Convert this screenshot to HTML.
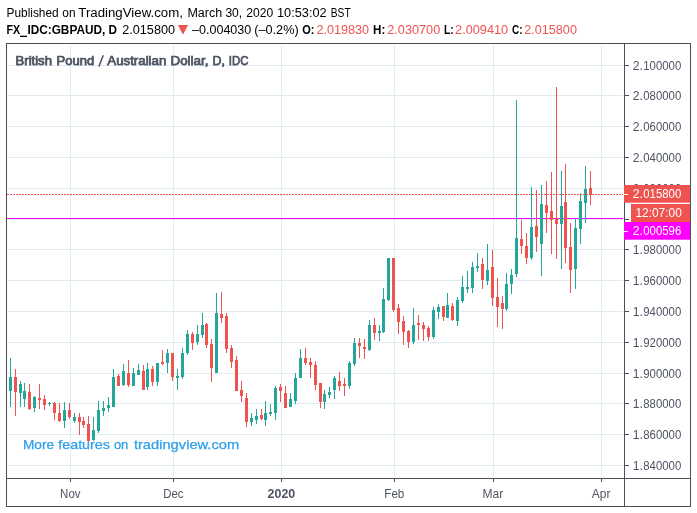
<!DOCTYPE html>
<html><head><meta charset="utf-8"><title>GBPAUD</title>
<style>
html,body{margin:0;padding:0;background:#fff;}
body{width:697px;height:513px;overflow:hidden;font-family:"Liberation Sans",sans-serif;}
svg{display:block;position:absolute;left:0;top:0;will-change:transform;}
text{font-family:"Liberation Sans",sans-serif;}
</style></head><body>
<svg width="697" height="513" viewBox="0 0 697 513">
<rect x="0" y="0" width="697" height="513" fill="#ffffff"/>
<g shape-rendering="crispEdges">
<rect x="8" y="65" width="615" height="1" fill="#e1ecf2"/>
<rect x="8" y="95" width="615" height="1" fill="#e1ecf2"/>
<rect x="8" y="126" width="615" height="1" fill="#e1ecf2"/>
<rect x="8" y="157" width="615" height="1" fill="#e1ecf2"/>
<rect x="8" y="188" width="615" height="1" fill="#e1ecf2"/>
<rect x="8" y="219" width="615" height="1" fill="#e1ecf2"/>
<rect x="8" y="249" width="615" height="1" fill="#e1ecf2"/>
<rect x="8" y="280" width="615" height="1" fill="#e1ecf2"/>
<rect x="8" y="311" width="615" height="1" fill="#e1ecf2"/>
<rect x="8" y="342" width="615" height="1" fill="#e1ecf2"/>
<rect x="8" y="373" width="615" height="1" fill="#e1ecf2"/>
<rect x="8" y="403" width="615" height="1" fill="#e1ecf2"/>
<rect x="8" y="434" width="615" height="1" fill="#e1ecf2"/>
<rect x="8" y="465" width="615" height="1" fill="#e1ecf2"/>
<rect x="70" y="45" width="1" height="432" fill="#e1ecf2"/>
<rect x="173" y="45" width="1" height="432" fill="#e1ecf2"/>
<rect x="281" y="45" width="1" height="432" fill="#e1ecf2"/>
<rect x="394" y="45" width="1" height="432" fill="#e1ecf2"/>
<rect x="493" y="45" width="1" height="432" fill="#e1ecf2"/>
<rect x="601" y="45" width="1" height="432" fill="#e1ecf2"/>
<rect x="7" y="218" width="616" height="1" fill="#ff00ff"/>
<rect x="10" y="358" width="1" height="49" fill="#26a69a"/>
<rect x="9" y="377" width="3" height="14" fill="#26a69a"/>
<rect x="15" y="369" width="1" height="47" fill="#ef5350"/>
<rect x="14" y="377" width="3" height="15" fill="#ef5350"/>
<rect x="20" y="381" width="1" height="26" fill="#26a69a"/>
<rect x="19" y="384" width="3" height="9" fill="#26a69a"/>
<rect x="24" y="383" width="1" height="24" fill="#26a69a"/>
<rect x="23" y="391" width="3" height="8" fill="#26a69a"/>
<rect x="29" y="384" width="1" height="26" fill="#ef5350"/>
<rect x="28" y="392" width="3" height="17" fill="#ef5350"/>
<rect x="34" y="396" width="1" height="16" fill="#26a69a"/>
<rect x="33" y="397" width="3" height="11" fill="#26a69a"/>
<rect x="39" y="384" width="1" height="25" fill="#ef5350"/>
<rect x="38" y="398" width="3" height="2" fill="#ef5350"/>
<rect x="44" y="395" width="1" height="15" fill="#ef5350"/>
<rect x="43" y="399" width="3" height="6" fill="#ef5350"/>
<rect x="49" y="402" width="1" height="4" fill="#26a69a"/>
<rect x="48" y="403" width="3" height="1" fill="#26a69a"/>
<rect x="54" y="402" width="1" height="18" fill="#ef5350"/>
<rect x="53" y="403" width="3" height="10" fill="#ef5350"/>
<rect x="59" y="403" width="1" height="19" fill="#ef5350"/>
<rect x="58" y="413" width="3" height="8" fill="#ef5350"/>
<rect x="64" y="402" width="1" height="26" fill="#26a69a"/>
<rect x="63" y="410" width="3" height="11" fill="#26a69a"/>
<rect x="69" y="403" width="1" height="16" fill="#ef5350"/>
<rect x="68" y="410" width="3" height="7" fill="#ef5350"/>
<rect x="74" y="413" width="1" height="10" fill="#26a69a"/>
<rect x="73" y="417" width="3" height="4" fill="#26a69a"/>
<rect x="79" y="413" width="1" height="22" fill="#ef5350"/>
<rect x="78" y="417" width="3" height="5" fill="#ef5350"/>
<rect x="83" y="417" width="1" height="11" fill="#ef5350"/>
<rect x="82" y="421" width="3" height="4" fill="#ef5350"/>
<rect x="88" y="416" width="1" height="26" fill="#ef5350"/>
<rect x="87" y="424" width="3" height="17" fill="#ef5350"/>
<rect x="93" y="417" width="1" height="24" fill="#26a69a"/>
<rect x="92" y="430" width="3" height="10" fill="#26a69a"/>
<rect x="98" y="401" width="1" height="32" fill="#26a69a"/>
<rect x="97" y="410" width="3" height="21" fill="#26a69a"/>
<rect x="103" y="401" width="1" height="15" fill="#26a69a"/>
<rect x="102" y="408" width="3" height="3" fill="#26a69a"/>
<rect x="108" y="397" width="1" height="15" fill="#26a69a"/>
<rect x="107" y="405" width="3" height="3" fill="#26a69a"/>
<rect x="113" y="369" width="1" height="38" fill="#26a69a"/>
<rect x="112" y="377" width="3" height="30" fill="#26a69a"/>
<rect x="118" y="374" width="1" height="12" fill="#ef5350"/>
<rect x="117" y="376" width="3" height="10" fill="#ef5350"/>
<rect x="123" y="364" width="1" height="22" fill="#26a69a"/>
<rect x="122" y="371" width="3" height="14" fill="#26a69a"/>
<rect x="128" y="360" width="1" height="27" fill="#ef5350"/>
<rect x="127" y="373" width="3" height="12" fill="#ef5350"/>
<rect x="133" y="368" width="1" height="18" fill="#26a69a"/>
<rect x="132" y="373" width="3" height="13" fill="#26a69a"/>
<rect x="138" y="364" width="1" height="11" fill="#26a69a"/>
<rect x="137" y="370" width="3" height="5" fill="#26a69a"/>
<rect x="143" y="365" width="1" height="25" fill="#ef5350"/>
<rect x="142" y="371" width="3" height="19" fill="#ef5350"/>
<rect x="147" y="363" width="1" height="27" fill="#26a69a"/>
<rect x="146" y="369" width="3" height="18" fill="#26a69a"/>
<rect x="152" y="366" width="1" height="20" fill="#ef5350"/>
<rect x="151" y="369" width="3" height="13" fill="#ef5350"/>
<rect x="157" y="363" width="1" height="23" fill="#26a69a"/>
<rect x="156" y="363" width="3" height="19" fill="#26a69a"/>
<rect x="162" y="350" width="1" height="15" fill="#ef5350"/>
<rect x="161" y="362" width="3" height="2" fill="#ef5350"/>
<rect x="167" y="349" width="1" height="24" fill="#26a69a"/>
<rect x="166" y="353" width="3" height="10" fill="#26a69a"/>
<rect x="172" y="353" width="1" height="28" fill="#ef5350"/>
<rect x="171" y="353" width="3" height="24" fill="#ef5350"/>
<rect x="177" y="369" width="1" height="21" fill="#26a69a"/>
<rect x="176" y="376" width="3" height="2" fill="#26a69a"/>
<rect x="182" y="348" width="1" height="31" fill="#26a69a"/>
<rect x="181" y="353" width="3" height="24" fill="#26a69a"/>
<rect x="187" y="330" width="1" height="25" fill="#26a69a"/>
<rect x="186" y="334" width="3" height="19" fill="#26a69a"/>
<rect x="192" y="332" width="1" height="18" fill="#ef5350"/>
<rect x="191" y="334" width="3" height="9" fill="#ef5350"/>
<rect x="197" y="325" width="1" height="20" fill="#26a69a"/>
<rect x="196" y="334" width="3" height="8" fill="#26a69a"/>
<rect x="202" y="313" width="1" height="25" fill="#26a69a"/>
<rect x="201" y="325" width="3" height="10" fill="#26a69a"/>
<rect x="206" y="323" width="1" height="25" fill="#ef5350"/>
<rect x="205" y="324" width="3" height="21" fill="#ef5350"/>
<rect x="211" y="339" width="1" height="43" fill="#ef5350"/>
<rect x="210" y="344" width="3" height="24" fill="#ef5350"/>
<rect x="216" y="293" width="1" height="80" fill="#26a69a"/>
<rect x="215" y="313" width="3" height="60" fill="#26a69a"/>
<rect x="221" y="292" width="1" height="31" fill="#ef5350"/>
<rect x="220" y="314" width="3" height="4" fill="#ef5350"/>
<rect x="226" y="313" width="1" height="40" fill="#ef5350"/>
<rect x="225" y="316" width="3" height="33" fill="#ef5350"/>
<rect x="231" y="345" width="1" height="23" fill="#ef5350"/>
<rect x="230" y="348" width="3" height="14" fill="#ef5350"/>
<rect x="236" y="356" width="1" height="35" fill="#ef5350"/>
<rect x="235" y="360" width="3" height="31" fill="#ef5350"/>
<rect x="241" y="381" width="1" height="21" fill="#ef5350"/>
<rect x="240" y="390" width="3" height="6" fill="#ef5350"/>
<rect x="246" y="393" width="1" height="34" fill="#ef5350"/>
<rect x="245" y="398" width="3" height="24" fill="#ef5350"/>
<rect x="251" y="413" width="1" height="13" fill="#26a69a"/>
<rect x="250" y="418" width="3" height="4" fill="#26a69a"/>
<rect x="256" y="409" width="1" height="15" fill="#26a69a"/>
<rect x="255" y="416" width="3" height="4" fill="#26a69a"/>
<rect x="261" y="409" width="1" height="11" fill="#ef5350"/>
<rect x="260" y="415" width="3" height="4" fill="#ef5350"/>
<rect x="265" y="401" width="1" height="25" fill="#26a69a"/>
<rect x="264" y="413" width="3" height="7" fill="#26a69a"/>
<rect x="270" y="404" width="1" height="12" fill="#26a69a"/>
<rect x="269" y="412" width="3" height="2" fill="#26a69a"/>
<rect x="275" y="386" width="1" height="34" fill="#26a69a"/>
<rect x="274" y="388" width="3" height="25" fill="#26a69a"/>
<rect x="280" y="384" width="1" height="18" fill="#ef5350"/>
<rect x="279" y="387" width="3" height="4" fill="#ef5350"/>
<rect x="285" y="386" width="1" height="22" fill="#ef5350"/>
<rect x="284" y="393" width="3" height="15" fill="#ef5350"/>
<rect x="290" y="393" width="1" height="14" fill="#26a69a"/>
<rect x="289" y="399" width="3" height="8" fill="#26a69a"/>
<rect x="295" y="373" width="1" height="31" fill="#26a69a"/>
<rect x="294" y="378" width="3" height="23" fill="#26a69a"/>
<rect x="300" y="349" width="1" height="29" fill="#26a69a"/>
<rect x="299" y="358" width="3" height="20" fill="#26a69a"/>
<rect x="305" y="348" width="1" height="17" fill="#ef5350"/>
<rect x="304" y="358" width="3" height="5" fill="#ef5350"/>
<rect x="310" y="358" width="1" height="20" fill="#ef5350"/>
<rect x="309" y="362" width="3" height="3" fill="#ef5350"/>
<rect x="315" y="361" width="1" height="29" fill="#ef5350"/>
<rect x="314" y="365" width="3" height="20" fill="#ef5350"/>
<rect x="320" y="383" width="1" height="25" fill="#ef5350"/>
<rect x="319" y="383" width="3" height="19" fill="#ef5350"/>
<rect x="324" y="390" width="1" height="19" fill="#26a69a"/>
<rect x="323" y="394" width="3" height="8" fill="#26a69a"/>
<rect x="329" y="387" width="1" height="11" fill="#26a69a"/>
<rect x="328" y="392" width="3" height="3" fill="#26a69a"/>
<rect x="334" y="376" width="1" height="23" fill="#26a69a"/>
<rect x="333" y="378" width="3" height="12" fill="#26a69a"/>
<rect x="339" y="372" width="1" height="19" fill="#ef5350"/>
<rect x="338" y="381" width="3" height="5" fill="#ef5350"/>
<rect x="344" y="378" width="1" height="18" fill="#ef5350"/>
<rect x="343" y="384" width="3" height="2" fill="#ef5350"/>
<rect x="349" y="361" width="1" height="28" fill="#26a69a"/>
<rect x="348" y="363" width="3" height="23" fill="#26a69a"/>
<rect x="354" y="338" width="1" height="28" fill="#26a69a"/>
<rect x="353" y="343" width="3" height="21" fill="#26a69a"/>
<rect x="359" y="338" width="1" height="20" fill="#ef5350"/>
<rect x="358" y="343" width="3" height="3" fill="#ef5350"/>
<rect x="364" y="339" width="1" height="20" fill="#ef5350"/>
<rect x="363" y="347" width="3" height="2" fill="#ef5350"/>
<rect x="369" y="320" width="1" height="31" fill="#26a69a"/>
<rect x="368" y="325" width="3" height="25" fill="#26a69a"/>
<rect x="374" y="318" width="1" height="22" fill="#ef5350"/>
<rect x="373" y="325" width="3" height="8" fill="#ef5350"/>
<rect x="379" y="325" width="1" height="16" fill="#26a69a"/>
<rect x="378" y="331" width="3" height="2" fill="#26a69a"/>
<rect x="383" y="288" width="1" height="45" fill="#26a69a"/>
<rect x="382" y="299" width="3" height="33" fill="#26a69a"/>
<rect x="388" y="258" width="1" height="43" fill="#26a69a"/>
<rect x="387" y="258" width="3" height="42" fill="#26a69a"/>
<rect x="393" y="258" width="1" height="54" fill="#ef5350"/>
<rect x="392" y="258" width="3" height="52" fill="#ef5350"/>
<rect x="398" y="304" width="1" height="30" fill="#ef5350"/>
<rect x="397" y="308" width="3" height="14" fill="#ef5350"/>
<rect x="403" y="316" width="1" height="29" fill="#ef5350"/>
<rect x="402" y="321" width="3" height="11" fill="#ef5350"/>
<rect x="408" y="330" width="1" height="18" fill="#ef5350"/>
<rect x="407" y="331" width="3" height="11" fill="#ef5350"/>
<rect x="413" y="308" width="1" height="36" fill="#26a69a"/>
<rect x="412" y="325" width="3" height="17" fill="#26a69a"/>
<rect x="418" y="315" width="1" height="25" fill="#ef5350"/>
<rect x="417" y="323" width="3" height="2" fill="#ef5350"/>
<rect x="423" y="322" width="1" height="19" fill="#ef5350"/>
<rect x="422" y="325" width="3" height="4" fill="#ef5350"/>
<rect x="428" y="326" width="1" height="15" fill="#ef5350"/>
<rect x="427" y="328" width="3" height="9" fill="#ef5350"/>
<rect x="433" y="307" width="1" height="32" fill="#26a69a"/>
<rect x="432" y="310" width="3" height="27" fill="#26a69a"/>
<rect x="438" y="304" width="1" height="15" fill="#26a69a"/>
<rect x="437" y="307" width="3" height="5" fill="#26a69a"/>
<rect x="443" y="306" width="1" height="15" fill="#ef5350"/>
<rect x="442" y="306" width="3" height="11" fill="#ef5350"/>
<rect x="447" y="293" width="1" height="25" fill="#26a69a"/>
<rect x="446" y="305" width="3" height="13" fill="#26a69a"/>
<rect x="452" y="303" width="1" height="18" fill="#ef5350"/>
<rect x="451" y="306" width="3" height="14" fill="#ef5350"/>
<rect x="457" y="297" width="1" height="29" fill="#26a69a"/>
<rect x="456" y="300" width="3" height="21" fill="#26a69a"/>
<rect x="462" y="276" width="1" height="27" fill="#26a69a"/>
<rect x="461" y="287" width="3" height="14" fill="#26a69a"/>
<rect x="467" y="271" width="1" height="22" fill="#26a69a"/>
<rect x="466" y="287" width="3" height="2" fill="#26a69a"/>
<rect x="472" y="262" width="1" height="31" fill="#26a69a"/>
<rect x="471" y="267" width="3" height="21" fill="#26a69a"/>
<rect x="477" y="253" width="1" height="19" fill="#26a69a"/>
<rect x="476" y="266" width="3" height="2" fill="#26a69a"/>
<rect x="482" y="258" width="1" height="31" fill="#ef5350"/>
<rect x="481" y="264" width="3" height="16" fill="#ef5350"/>
<rect x="487" y="244" width="1" height="41" fill="#26a69a"/>
<rect x="486" y="270" width="3" height="11" fill="#26a69a"/>
<rect x="492" y="250" width="1" height="56" fill="#ef5350"/>
<rect x="491" y="267" width="3" height="31" fill="#ef5350"/>
<rect x="497" y="278" width="1" height="49" fill="#ef5350"/>
<rect x="496" y="297" width="3" height="10" fill="#ef5350"/>
<rect x="502" y="296" width="1" height="33" fill="#ef5350"/>
<rect x="501" y="303" width="3" height="6" fill="#ef5350"/>
<rect x="506" y="273" width="1" height="38" fill="#26a69a"/>
<rect x="505" y="284" width="3" height="25" fill="#26a69a"/>
<rect x="511" y="269" width="1" height="25" fill="#26a69a"/>
<rect x="510" y="275" width="3" height="9" fill="#26a69a"/>
<rect x="516" y="100" width="1" height="177" fill="#26a69a"/>
<rect x="515" y="238" width="3" height="36" fill="#26a69a"/>
<rect x="521" y="220" width="1" height="34" fill="#ef5350"/>
<rect x="520" y="239" width="3" height="7" fill="#ef5350"/>
<rect x="526" y="233" width="1" height="31" fill="#ef5350"/>
<rect x="525" y="246" width="3" height="12" fill="#ef5350"/>
<rect x="531" y="187" width="1" height="73" fill="#26a69a"/>
<rect x="530" y="227" width="3" height="31" fill="#26a69a"/>
<rect x="536" y="190" width="1" height="62" fill="#ef5350"/>
<rect x="535" y="226" width="3" height="11" fill="#ef5350"/>
<rect x="541" y="185" width="1" height="91" fill="#26a69a"/>
<rect x="540" y="204" width="3" height="40" fill="#26a69a"/>
<rect x="546" y="181" width="1" height="52" fill="#ef5350"/>
<rect x="545" y="205" width="3" height="8" fill="#ef5350"/>
<rect x="551" y="172" width="1" height="82" fill="#ef5350"/>
<rect x="550" y="211" width="3" height="9" fill="#ef5350"/>
<rect x="556" y="87" width="1" height="172" fill="#ef5350"/>
<rect x="555" y="218" width="3" height="6" fill="#ef5350"/>
<rect x="561" y="171" width="1" height="98" fill="#26a69a"/>
<rect x="560" y="206" width="3" height="18" fill="#26a69a"/>
<rect x="565" y="164" width="1" height="99" fill="#ef5350"/>
<rect x="564" y="202" width="3" height="46" fill="#ef5350"/>
<rect x="570" y="223" width="1" height="70" fill="#ef5350"/>
<rect x="569" y="247" width="3" height="23" fill="#ef5350"/>
<rect x="575" y="219" width="1" height="70" fill="#26a69a"/>
<rect x="574" y="228" width="3" height="41" fill="#26a69a"/>
<rect x="580" y="193" width="1" height="51" fill="#26a69a"/>
<rect x="579" y="201" width="3" height="28" fill="#26a69a"/>
<rect x="585" y="166" width="1" height="57" fill="#26a69a"/>
<rect x="584" y="189" width="3" height="14" fill="#26a69a"/>
<rect x="590" y="171" width="1" height="34" fill="#ef5350"/>
<rect x="589" y="188" width="3" height="7" fill="#ef5350"/>
<rect x="7" y="194" width="2" height="1" fill="#ef5350"/>
<rect x="10" y="194" width="2" height="1" fill="#ef5350"/>
<rect x="13" y="194" width="2" height="1" fill="#ef5350"/>
<rect x="16" y="194" width="2" height="1" fill="#ef5350"/>
<rect x="19" y="194" width="2" height="1" fill="#ef5350"/>
<rect x="22" y="194" width="2" height="1" fill="#ef5350"/>
<rect x="25" y="194" width="2" height="1" fill="#ef5350"/>
<rect x="28" y="194" width="2" height="1" fill="#ef5350"/>
<rect x="31" y="194" width="2" height="1" fill="#ef5350"/>
<rect x="34" y="194" width="2" height="1" fill="#ef5350"/>
<rect x="37" y="194" width="2" height="1" fill="#ef5350"/>
<rect x="40" y="194" width="2" height="1" fill="#ef5350"/>
<rect x="43" y="194" width="2" height="1" fill="#ef5350"/>
<rect x="46" y="194" width="2" height="1" fill="#ef5350"/>
<rect x="49" y="194" width="2" height="1" fill="#ef5350"/>
<rect x="52" y="194" width="2" height="1" fill="#ef5350"/>
<rect x="55" y="194" width="2" height="1" fill="#ef5350"/>
<rect x="58" y="194" width="2" height="1" fill="#ef5350"/>
<rect x="61" y="194" width="2" height="1" fill="#ef5350"/>
<rect x="64" y="194" width="2" height="1" fill="#ef5350"/>
<rect x="67" y="194" width="2" height="1" fill="#ef5350"/>
<rect x="70" y="194" width="2" height="1" fill="#ef5350"/>
<rect x="73" y="194" width="2" height="1" fill="#ef5350"/>
<rect x="76" y="194" width="2" height="1" fill="#ef5350"/>
<rect x="79" y="194" width="2" height="1" fill="#ef5350"/>
<rect x="82" y="194" width="2" height="1" fill="#ef5350"/>
<rect x="85" y="194" width="2" height="1" fill="#ef5350"/>
<rect x="88" y="194" width="2" height="1" fill="#ef5350"/>
<rect x="91" y="194" width="2" height="1" fill="#ef5350"/>
<rect x="94" y="194" width="2" height="1" fill="#ef5350"/>
<rect x="97" y="194" width="2" height="1" fill="#ef5350"/>
<rect x="100" y="194" width="2" height="1" fill="#ef5350"/>
<rect x="103" y="194" width="2" height="1" fill="#ef5350"/>
<rect x="106" y="194" width="2" height="1" fill="#ef5350"/>
<rect x="109" y="194" width="2" height="1" fill="#ef5350"/>
<rect x="112" y="194" width="2" height="1" fill="#ef5350"/>
<rect x="115" y="194" width="2" height="1" fill="#ef5350"/>
<rect x="118" y="194" width="2" height="1" fill="#ef5350"/>
<rect x="121" y="194" width="2" height="1" fill="#ef5350"/>
<rect x="124" y="194" width="2" height="1" fill="#ef5350"/>
<rect x="127" y="194" width="2" height="1" fill="#ef5350"/>
<rect x="130" y="194" width="2" height="1" fill="#ef5350"/>
<rect x="133" y="194" width="2" height="1" fill="#ef5350"/>
<rect x="136" y="194" width="2" height="1" fill="#ef5350"/>
<rect x="139" y="194" width="2" height="1" fill="#ef5350"/>
<rect x="142" y="194" width="2" height="1" fill="#ef5350"/>
<rect x="145" y="194" width="2" height="1" fill="#ef5350"/>
<rect x="148" y="194" width="2" height="1" fill="#ef5350"/>
<rect x="151" y="194" width="2" height="1" fill="#ef5350"/>
<rect x="154" y="194" width="2" height="1" fill="#ef5350"/>
<rect x="157" y="194" width="2" height="1" fill="#ef5350"/>
<rect x="160" y="194" width="2" height="1" fill="#ef5350"/>
<rect x="163" y="194" width="2" height="1" fill="#ef5350"/>
<rect x="166" y="194" width="2" height="1" fill="#ef5350"/>
<rect x="169" y="194" width="2" height="1" fill="#ef5350"/>
<rect x="172" y="194" width="2" height="1" fill="#ef5350"/>
<rect x="175" y="194" width="2" height="1" fill="#ef5350"/>
<rect x="178" y="194" width="2" height="1" fill="#ef5350"/>
<rect x="181" y="194" width="2" height="1" fill="#ef5350"/>
<rect x="184" y="194" width="2" height="1" fill="#ef5350"/>
<rect x="187" y="194" width="2" height="1" fill="#ef5350"/>
<rect x="190" y="194" width="2" height="1" fill="#ef5350"/>
<rect x="193" y="194" width="2" height="1" fill="#ef5350"/>
<rect x="196" y="194" width="2" height="1" fill="#ef5350"/>
<rect x="199" y="194" width="2" height="1" fill="#ef5350"/>
<rect x="202" y="194" width="2" height="1" fill="#ef5350"/>
<rect x="205" y="194" width="2" height="1" fill="#ef5350"/>
<rect x="208" y="194" width="2" height="1" fill="#ef5350"/>
<rect x="211" y="194" width="2" height="1" fill="#ef5350"/>
<rect x="214" y="194" width="2" height="1" fill="#ef5350"/>
<rect x="217" y="194" width="2" height="1" fill="#ef5350"/>
<rect x="220" y="194" width="2" height="1" fill="#ef5350"/>
<rect x="223" y="194" width="2" height="1" fill="#ef5350"/>
<rect x="226" y="194" width="2" height="1" fill="#ef5350"/>
<rect x="229" y="194" width="2" height="1" fill="#ef5350"/>
<rect x="232" y="194" width="2" height="1" fill="#ef5350"/>
<rect x="235" y="194" width="2" height="1" fill="#ef5350"/>
<rect x="238" y="194" width="2" height="1" fill="#ef5350"/>
<rect x="241" y="194" width="2" height="1" fill="#ef5350"/>
<rect x="244" y="194" width="2" height="1" fill="#ef5350"/>
<rect x="247" y="194" width="2" height="1" fill="#ef5350"/>
<rect x="250" y="194" width="2" height="1" fill="#ef5350"/>
<rect x="253" y="194" width="2" height="1" fill="#ef5350"/>
<rect x="256" y="194" width="2" height="1" fill="#ef5350"/>
<rect x="259" y="194" width="2" height="1" fill="#ef5350"/>
<rect x="262" y="194" width="2" height="1" fill="#ef5350"/>
<rect x="265" y="194" width="2" height="1" fill="#ef5350"/>
<rect x="268" y="194" width="2" height="1" fill="#ef5350"/>
<rect x="271" y="194" width="2" height="1" fill="#ef5350"/>
<rect x="274" y="194" width="2" height="1" fill="#ef5350"/>
<rect x="277" y="194" width="2" height="1" fill="#ef5350"/>
<rect x="280" y="194" width="2" height="1" fill="#ef5350"/>
<rect x="283" y="194" width="2" height="1" fill="#ef5350"/>
<rect x="286" y="194" width="2" height="1" fill="#ef5350"/>
<rect x="289" y="194" width="2" height="1" fill="#ef5350"/>
<rect x="292" y="194" width="2" height="1" fill="#ef5350"/>
<rect x="295" y="194" width="2" height="1" fill="#ef5350"/>
<rect x="298" y="194" width="2" height="1" fill="#ef5350"/>
<rect x="301" y="194" width="2" height="1" fill="#ef5350"/>
<rect x="304" y="194" width="2" height="1" fill="#ef5350"/>
<rect x="307" y="194" width="2" height="1" fill="#ef5350"/>
<rect x="310" y="194" width="2" height="1" fill="#ef5350"/>
<rect x="313" y="194" width="2" height="1" fill="#ef5350"/>
<rect x="316" y="194" width="2" height="1" fill="#ef5350"/>
<rect x="319" y="194" width="2" height="1" fill="#ef5350"/>
<rect x="322" y="194" width="2" height="1" fill="#ef5350"/>
<rect x="325" y="194" width="2" height="1" fill="#ef5350"/>
<rect x="328" y="194" width="2" height="1" fill="#ef5350"/>
<rect x="331" y="194" width="2" height="1" fill="#ef5350"/>
<rect x="334" y="194" width="2" height="1" fill="#ef5350"/>
<rect x="337" y="194" width="2" height="1" fill="#ef5350"/>
<rect x="340" y="194" width="2" height="1" fill="#ef5350"/>
<rect x="343" y="194" width="2" height="1" fill="#ef5350"/>
<rect x="346" y="194" width="2" height="1" fill="#ef5350"/>
<rect x="349" y="194" width="2" height="1" fill="#ef5350"/>
<rect x="352" y="194" width="2" height="1" fill="#ef5350"/>
<rect x="355" y="194" width="2" height="1" fill="#ef5350"/>
<rect x="358" y="194" width="2" height="1" fill="#ef5350"/>
<rect x="361" y="194" width="2" height="1" fill="#ef5350"/>
<rect x="364" y="194" width="2" height="1" fill="#ef5350"/>
<rect x="367" y="194" width="2" height="1" fill="#ef5350"/>
<rect x="370" y="194" width="2" height="1" fill="#ef5350"/>
<rect x="373" y="194" width="2" height="1" fill="#ef5350"/>
<rect x="376" y="194" width="2" height="1" fill="#ef5350"/>
<rect x="379" y="194" width="2" height="1" fill="#ef5350"/>
<rect x="382" y="194" width="2" height="1" fill="#ef5350"/>
<rect x="385" y="194" width="2" height="1" fill="#ef5350"/>
<rect x="388" y="194" width="2" height="1" fill="#ef5350"/>
<rect x="391" y="194" width="2" height="1" fill="#ef5350"/>
<rect x="394" y="194" width="2" height="1" fill="#ef5350"/>
<rect x="397" y="194" width="2" height="1" fill="#ef5350"/>
<rect x="400" y="194" width="2" height="1" fill="#ef5350"/>
<rect x="403" y="194" width="2" height="1" fill="#ef5350"/>
<rect x="406" y="194" width="2" height="1" fill="#ef5350"/>
<rect x="409" y="194" width="2" height="1" fill="#ef5350"/>
<rect x="412" y="194" width="2" height="1" fill="#ef5350"/>
<rect x="415" y="194" width="2" height="1" fill="#ef5350"/>
<rect x="418" y="194" width="2" height="1" fill="#ef5350"/>
<rect x="421" y="194" width="2" height="1" fill="#ef5350"/>
<rect x="424" y="194" width="2" height="1" fill="#ef5350"/>
<rect x="427" y="194" width="2" height="1" fill="#ef5350"/>
<rect x="430" y="194" width="2" height="1" fill="#ef5350"/>
<rect x="433" y="194" width="2" height="1" fill="#ef5350"/>
<rect x="436" y="194" width="2" height="1" fill="#ef5350"/>
<rect x="439" y="194" width="2" height="1" fill="#ef5350"/>
<rect x="442" y="194" width="2" height="1" fill="#ef5350"/>
<rect x="445" y="194" width="2" height="1" fill="#ef5350"/>
<rect x="448" y="194" width="2" height="1" fill="#ef5350"/>
<rect x="451" y="194" width="2" height="1" fill="#ef5350"/>
<rect x="454" y="194" width="2" height="1" fill="#ef5350"/>
<rect x="457" y="194" width="2" height="1" fill="#ef5350"/>
<rect x="460" y="194" width="2" height="1" fill="#ef5350"/>
<rect x="463" y="194" width="2" height="1" fill="#ef5350"/>
<rect x="466" y="194" width="2" height="1" fill="#ef5350"/>
<rect x="469" y="194" width="2" height="1" fill="#ef5350"/>
<rect x="472" y="194" width="2" height="1" fill="#ef5350"/>
<rect x="475" y="194" width="2" height="1" fill="#ef5350"/>
<rect x="478" y="194" width="2" height="1" fill="#ef5350"/>
<rect x="481" y="194" width="2" height="1" fill="#ef5350"/>
<rect x="484" y="194" width="2" height="1" fill="#ef5350"/>
<rect x="487" y="194" width="2" height="1" fill="#ef5350"/>
<rect x="490" y="194" width="2" height="1" fill="#ef5350"/>
<rect x="493" y="194" width="2" height="1" fill="#ef5350"/>
<rect x="496" y="194" width="2" height="1" fill="#ef5350"/>
<rect x="499" y="194" width="2" height="1" fill="#ef5350"/>
<rect x="502" y="194" width="2" height="1" fill="#ef5350"/>
<rect x="505" y="194" width="2" height="1" fill="#ef5350"/>
<rect x="508" y="194" width="2" height="1" fill="#ef5350"/>
<rect x="511" y="194" width="2" height="1" fill="#ef5350"/>
<rect x="514" y="194" width="2" height="1" fill="#ef5350"/>
<rect x="517" y="194" width="2" height="1" fill="#ef5350"/>
<rect x="520" y="194" width="2" height="1" fill="#ef5350"/>
<rect x="523" y="194" width="2" height="1" fill="#ef5350"/>
<rect x="526" y="194" width="2" height="1" fill="#ef5350"/>
<rect x="529" y="194" width="2" height="1" fill="#ef5350"/>
<rect x="532" y="194" width="2" height="1" fill="#ef5350"/>
<rect x="535" y="194" width="2" height="1" fill="#ef5350"/>
<rect x="538" y="194" width="2" height="1" fill="#ef5350"/>
<rect x="541" y="194" width="2" height="1" fill="#ef5350"/>
<rect x="544" y="194" width="2" height="1" fill="#ef5350"/>
<rect x="547" y="194" width="2" height="1" fill="#ef5350"/>
<rect x="550" y="194" width="2" height="1" fill="#ef5350"/>
<rect x="553" y="194" width="2" height="1" fill="#ef5350"/>
<rect x="556" y="194" width="2" height="1" fill="#ef5350"/>
<rect x="559" y="194" width="2" height="1" fill="#ef5350"/>
<rect x="562" y="194" width="2" height="1" fill="#ef5350"/>
<rect x="565" y="194" width="2" height="1" fill="#ef5350"/>
<rect x="568" y="194" width="2" height="1" fill="#ef5350"/>
<rect x="571" y="194" width="2" height="1" fill="#ef5350"/>
<rect x="574" y="194" width="2" height="1" fill="#ef5350"/>
<rect x="577" y="194" width="2" height="1" fill="#ef5350"/>
<rect x="580" y="194" width="2" height="1" fill="#ef5350"/>
<rect x="583" y="194" width="2" height="1" fill="#ef5350"/>
<rect x="586" y="194" width="2" height="1" fill="#ef5350"/>
<rect x="589" y="194" width="2" height="1" fill="#ef5350"/>
<rect x="592" y="194" width="2" height="1" fill="#ef5350"/>
<rect x="595" y="194" width="2" height="1" fill="#ef5350"/>
<rect x="598" y="194" width="2" height="1" fill="#ef5350"/>
<rect x="601" y="194" width="2" height="1" fill="#ef5350"/>
<rect x="604" y="194" width="2" height="1" fill="#ef5350"/>
<rect x="607" y="194" width="2" height="1" fill="#ef5350"/>
<rect x="610" y="194" width="2" height="1" fill="#ef5350"/>
<rect x="613" y="194" width="2" height="1" fill="#ef5350"/>
<rect x="616" y="194" width="2" height="1" fill="#ef5350"/>
<rect x="619" y="194" width="2" height="1" fill="#ef5350"/>
<rect x="622" y="194" width="1" height="1" fill="#ef5350"/>
<rect x="6" y="43" width="685" height="1" fill="#4a4e59"/>
<rect x="6" y="506" width="685" height="1" fill="#4a4e59"/>
<rect x="6" y="43" width="1" height="464" fill="#4a4e59"/>
<rect x="690" y="43" width="1" height="464" fill="#4a4e59"/>
<rect x="624" y="43" width="1" height="464" fill="#4a4e59"/>
<rect x="6" y="478" width="685" height="1" fill="#4a4e59"/>
<rect x="625" y="65" width="4" height="1" fill="#4a4e59"/>
<rect x="625" y="95" width="4" height="1" fill="#4a4e59"/>
<rect x="625" y="126" width="4" height="1" fill="#4a4e59"/>
<rect x="625" y="157" width="4" height="1" fill="#4a4e59"/>
<rect x="625" y="188" width="4" height="1" fill="#4a4e59"/>
<rect x="625" y="219" width="4" height="1" fill="#4a4e59"/>
<rect x="625" y="249" width="4" height="1" fill="#4a4e59"/>
<rect x="625" y="280" width="4" height="1" fill="#4a4e59"/>
<rect x="625" y="311" width="4" height="1" fill="#4a4e59"/>
<rect x="625" y="342" width="4" height="1" fill="#4a4e59"/>
<rect x="625" y="373" width="4" height="1" fill="#4a4e59"/>
<rect x="625" y="403" width="4" height="1" fill="#4a4e59"/>
<rect x="625" y="434" width="4" height="1" fill="#4a4e59"/>
<rect x="625" y="465" width="4" height="1" fill="#4a4e59"/>
<rect x="70" y="479" width="1" height="3" fill="#4a4e59"/>
<rect x="173" y="479" width="1" height="3" fill="#4a4e59"/>
<rect x="281" y="479" width="1" height="3" fill="#4a4e59"/>
<rect x="394" y="479" width="1" height="3" fill="#4a4e59"/>
<rect x="493" y="479" width="1" height="3" fill="#4a4e59"/>
<rect x="601" y="479" width="1" height="3" fill="#4a4e59"/>
</g>
<text x="632.7" y="70" font-size="12.2" fill="#4f5463">2.</text>
<text x="643.3" y="70" font-size="12.2" fill="#4f5463" textLength="37.9" lengthAdjust="spacingAndGlyphs">100000</text>
<text x="632.7" y="100" font-size="12.2" fill="#4f5463">2.</text>
<text x="643.3" y="100" font-size="12.2" fill="#4f5463" textLength="37.9" lengthAdjust="spacingAndGlyphs">080000</text>
<text x="632.7" y="131" font-size="12.2" fill="#4f5463">2.</text>
<text x="643.3" y="131" font-size="12.2" fill="#4f5463" textLength="37.9" lengthAdjust="spacingAndGlyphs">060000</text>
<text x="632.7" y="162" font-size="12.2" fill="#4f5463">2.</text>
<text x="643.3" y="162" font-size="12.2" fill="#4f5463" textLength="37.9" lengthAdjust="spacingAndGlyphs">040000</text>
<text x="632.7" y="193" font-size="12.2" fill="#4f5463">2.</text>
<text x="643.3" y="193" font-size="12.2" fill="#4f5463" textLength="37.9" lengthAdjust="spacingAndGlyphs">020000</text>
<text x="632.7" y="224" font-size="12.2" fill="#4f5463">2.</text>
<text x="643.3" y="224" font-size="12.2" fill="#4f5463" textLength="37.9" lengthAdjust="spacingAndGlyphs">000000</text>
<text x="632.7" y="254" font-size="12.2" fill="#4f5463">1.</text>
<text x="643.3" y="254" font-size="12.2" fill="#4f5463" textLength="37.9" lengthAdjust="spacingAndGlyphs">980000</text>
<text x="632.7" y="285" font-size="12.2" fill="#4f5463">1.</text>
<text x="643.3" y="285" font-size="12.2" fill="#4f5463" textLength="37.9" lengthAdjust="spacingAndGlyphs">960000</text>
<text x="632.7" y="316" font-size="12.2" fill="#4f5463">1.</text>
<text x="643.3" y="316" font-size="12.2" fill="#4f5463" textLength="37.9" lengthAdjust="spacingAndGlyphs">940000</text>
<text x="632.7" y="347" font-size="12.2" fill="#4f5463">1.</text>
<text x="643.3" y="347" font-size="12.2" fill="#4f5463" textLength="37.9" lengthAdjust="spacingAndGlyphs">920000</text>
<text x="632.7" y="378" font-size="12.2" fill="#4f5463">1.</text>
<text x="643.3" y="378" font-size="12.2" fill="#4f5463" textLength="37.9" lengthAdjust="spacingAndGlyphs">900000</text>
<text x="632.7" y="408" font-size="12.2" fill="#4f5463">1.</text>
<text x="643.3" y="408" font-size="12.2" fill="#4f5463" textLength="37.9" lengthAdjust="spacingAndGlyphs">880000</text>
<text x="632.7" y="439" font-size="12.2" fill="#4f5463">1.</text>
<text x="643.3" y="439" font-size="12.2" fill="#4f5463" textLength="37.9" lengthAdjust="spacingAndGlyphs">860000</text>
<text x="632.7" y="470" font-size="12.2" fill="#4f5463">1.</text>
<text x="643.3" y="470" font-size="12.2" fill="#4f5463" textLength="37.9" lengthAdjust="spacingAndGlyphs">840000</text>
<rect x="624" y="185" width="66" height="17.7" fill="#ef5350"/>
<rect x="631" y="204" width="59" height="18" fill="#ef5350"/>
<rect x="624" y="222" width="66" height="17.7" fill="#ff00ff"/>
<rect x="624" y="194" width="4" height="1" fill="#ffffff" shape-rendering="crispEdges"/>
<rect x="624" y="231" width="4" height="1" fill="#ffffff" shape-rendering="crispEdges"/>
<polygon points="177.9,25.1 188.1,25.1 183,34.8" fill="#ef5350"/>
<text x="632.7" y="198" font-size="12.2" fill="#fff">2.</text>
<text x="643.3" y="198" font-size="12.2" fill="#fff" textLength="37.9" lengthAdjust="spacingAndGlyphs">015800</text>
<text x="635.4" y="217" font-size="12.2" fill="#fff" textLength="46.4" lengthAdjust="spacingAndGlyphs">12:07:00</text>
<text x="632.7" y="235" font-size="12.2" fill="#fff">2.</text>
<text x="643.3" y="235" font-size="12.2" fill="#fff" textLength="37.9" lengthAdjust="spacingAndGlyphs">000596</text>
<text x="60.1" y="497.8" font-size="12" fill="#4f5463" textLength="20.4" lengthAdjust="spacingAndGlyphs">Nov</text>
<text x="163.20000000000002" y="497.8" font-size="12" fill="#4f5463" textLength="20.2" lengthAdjust="spacingAndGlyphs">Dec</text>
<text x="267.59999999999997" y="497.8" font-size="12" fill="#4f5463" textLength="27.599999999999998" lengthAdjust="spacingAndGlyphs" font-weight="bold">2020</text>
<text x="384.29999999999995" y="497.8" font-size="12" fill="#4f5463" textLength="20.0" lengthAdjust="spacingAndGlyphs">Feb</text>
<text x="482.59999999999997" y="497.8" font-size="12" fill="#4f5463" textLength="20.7" lengthAdjust="spacingAndGlyphs">Mar</text>
<text x="591.8" y="497.8" font-size="12" fill="#4f5463" textLength="18.599999999999998" lengthAdjust="spacingAndGlyphs">Apr</text>
<text x="15.5" y="64.8" font-size="12.2" fill="#4f5463" stroke="#4f5463" stroke-width="0.75" textLength="36.5" lengthAdjust="spacingAndGlyphs">British</text>
<text x="56.6" y="64.8" font-size="12.2" fill="#4f5463" stroke="#4f5463" stroke-width="0.75" textLength="37.6" lengthAdjust="spacingAndGlyphs">Pound</text>
<line x1="98.9" y1="66.5" x2="103.3" y2="55.3" stroke="#4f5463" stroke-width="1.5"/>
<text x="107.3" y="64.8" font-size="12.2" fill="#4f5463" stroke="#4f5463" stroke-width="0.75" textLength="59.0" lengthAdjust="spacingAndGlyphs">Australian</text>
<text x="170.5" y="64.8" font-size="12.2" fill="#4f5463" stroke="#4f5463" stroke-width="0.75" textLength="37.9" lengthAdjust="spacingAndGlyphs">Dollar,</text>
<text x="212.5" y="64.8" font-size="12.2" fill="#4f5463" stroke="#4f5463" stroke-width="0.75" textLength="12.4" lengthAdjust="spacingAndGlyphs">D,</text>
<text x="228.79999999999998" y="64.8" font-size="12.2" fill="#4f5463" stroke="#4f5463" stroke-width="0.75" textLength="19.6" lengthAdjust="spacingAndGlyphs">IDC</text>
<text x="23.0" y="449.4" font-size="13" fill="#2e9fea" stroke="#2e9fea" stroke-width="0.25" textLength="31.0" lengthAdjust="spacingAndGlyphs">More</text>
<text x="58.3" y="449.4" font-size="13" fill="#2e9fea" stroke="#2e9fea" stroke-width="0.25" textLength="51.6" lengthAdjust="spacingAndGlyphs">features</text>
<text x="113.9" y="449.4" font-size="13" fill="#2e9fea" stroke="#2e9fea" stroke-width="0.25" textLength="14.4" lengthAdjust="spacingAndGlyphs">on</text>
<text x="133.9" y="449.4" font-size="13" fill="#2e9fea" stroke="#2e9fea" stroke-width="0.25" textLength="105.3" lengthAdjust="spacingAndGlyphs">tradingview.com</text>
<text x="6.5" y="16.5" font-size="12.5" fill="#000" textLength="52.2" lengthAdjust="spacingAndGlyphs">Published</text>
<text x="62.3" y="16.5" font-size="12.5" fill="#000" textLength="13.2" lengthAdjust="spacingAndGlyphs">on</text>
<text x="78.3" y="16.5" font-size="12.5" fill="#000" textLength="104.6" lengthAdjust="spacingAndGlyphs">TradingView.com,</text>
<text x="187.4" y="16.5" font-size="12.5" fill="#000" textLength="34.7" lengthAdjust="spacingAndGlyphs">March</text>
<text x="225.4" y="16.5" font-size="12.5" fill="#000" textLength="16.8" lengthAdjust="spacingAndGlyphs">30,</text>
<text x="246.3" y="16.5" font-size="12.5" fill="#000" textLength="26.9" lengthAdjust="spacingAndGlyphs">2020</text>
<text x="277.0" y="16.5" font-size="12.5" fill="#000" textLength="49.7" lengthAdjust="spacingAndGlyphs">10:53:02</text>
<text x="330.8" y="16.5" font-size="12.5" fill="#000" textLength="19.9" lengthAdjust="spacingAndGlyphs">BST</text>
<text x="6.5" y="33.7" font-size="12.5" fill="#000" font-weight="bold" textLength="13.6" lengthAdjust="spacingAndGlyphs">FX</text>
<rect x="20.1" y="35.7" width="6.9" height="1.3" fill="#000"/>
<text x="27.4" y="33.7" font-size="12.5" fill="#000" font-weight="bold" textLength="77.9" lengthAdjust="spacingAndGlyphs">IDC:GBPAUD,</text>
<text x="108.5" y="33.7" font-size="12.5" fill="#000" font-weight="bold" textLength="8.5" lengthAdjust="spacingAndGlyphs">D</text>
<text x="122.2" y="33.7" font-size="12.5" fill="#000" textLength="52.9" lengthAdjust="spacingAndGlyphs">2.015800</text>
<text x="192.0" y="33.7" font-size="12.5" fill="#000" textLength="59.3" lengthAdjust="spacingAndGlyphs">–0.004030</text>
<text x="254.2" y="33.7" font-size="12.5" fill="#000" textLength="44.5" lengthAdjust="spacingAndGlyphs">(–0.2%)</text>
<text x="302.2" y="33.7" font-size="12.5" fill="#000" font-weight="bold" textLength="12.2" lengthAdjust="spacingAndGlyphs">O:</text>
<text x="316.4" y="33.7" font-size="12.5" fill="#ef5350" textLength="52.6" lengthAdjust="spacingAndGlyphs">2.019830</text>
<text x="373.1" y="33.7" font-size="12.5" fill="#000" font-weight="bold" textLength="12.2" lengthAdjust="spacingAndGlyphs">H:</text>
<text x="387.3" y="33.7" font-size="12.5" fill="#ef5350" textLength="52.9" lengthAdjust="spacingAndGlyphs">2.030700</text>
<text x="444.1" y="33.7" font-size="12.5" fill="#000" font-weight="bold" textLength="9.7" lengthAdjust="spacingAndGlyphs">L:</text>
<text x="455.1" y="33.7" font-size="12.5" fill="#ef5350" textLength="53.0" lengthAdjust="spacingAndGlyphs">2.009410</text>
<text x="512.0" y="33.7" font-size="12.5" fill="#000" font-weight="bold" textLength="10.6" lengthAdjust="spacingAndGlyphs">C:</text>
<text x="524.3" y="33.7" font-size="12.5" fill="#ef5350" textLength="52.6" lengthAdjust="spacingAndGlyphs">2.015800</text>
</svg></body></html>
